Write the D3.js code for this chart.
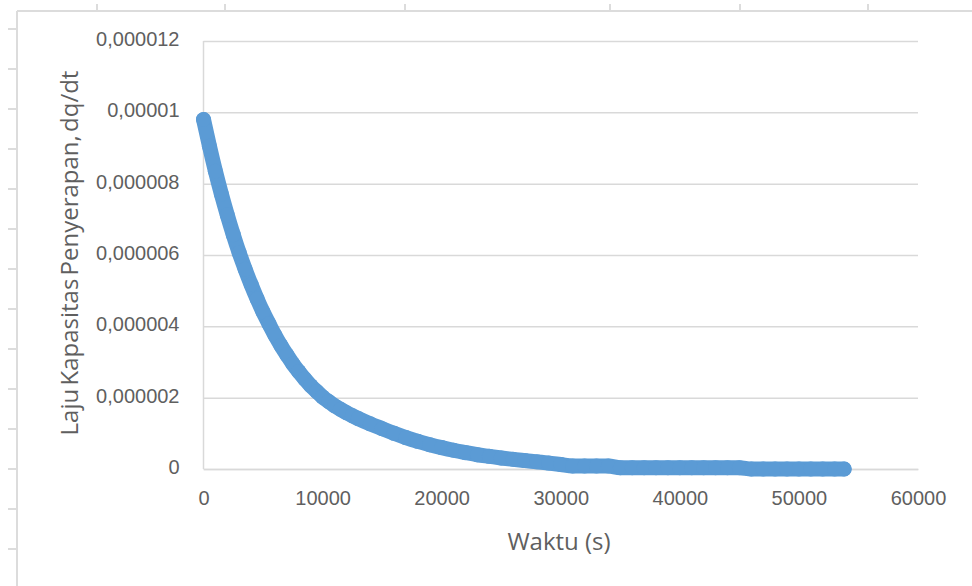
<!DOCTYPE html>
<html>
<head>
<meta charset="utf-8">
<script src="https://cdn.jsdelivr.net/npm/d3@7"></script>
<style>
  html, body { margin: 0; padding: 0; background: #fff; }
  svg { display: block; font-family: "Open Sans", "Noto Sans", sans-serif; }
  .tick text { fill: #5f5f5f; }
</style>
</head>
<body>
<svg id="chart" width="972" height="586"></svg>
<script>
// time (s)
var timeS = [
    0, 500, 1000, 1500, 2000, 2500, 3000, 3500, 4000, 4500,
    5000, 5500, 6000, 6500, 7000, 7500, 8000, 8500, 9000, 9500,
    10000, 10500, 11000, 11500, 12000, 12500, 13000, 14000, 15000, 16000,
    17000, 18000, 19000, 20000, 21000, 22000, 23000, 24000, 25000, 26000,
    27000, 28000, 29000, 30000, 31000, 32000, 33000, 34000, 35000, 36000,
    37000, 38000, 39000, 40000, 41000, 42000, 43000, 44000, 45000, 46000,
    47000, 48000, 49000, 50000, 51000, 52000, 53000, 53800
];

// dq/dt
var rate = [
    9.80e-6, 9.05e-6, 8.35e-6, 7.71e-6, 7.12e-6, 6.57e-6, 6.06e-6, 5.60e-6, 5.17e-6, 4.77e-6,
    4.40e-6, 4.07e-6, 3.75e-6, 3.46e-6, 3.20e-6, 2.95e-6, 2.73e-6, 2.525e-6, 2.337e-6, 2.175e-6,
    2.022e-6, 1.895e-6, 1.775e-6, 1.674e-6, 1.578e-6, 1.493e-6, 1.413e-6, 1.266e-6, 1.132e-6, 1.00e-6,
    0.88e-6, 0.775e-6, 0.683e-6, 0.60e-6, 0.525e-6, 0.46e-6, 0.40e-6, 0.355e-6, 0.31e-6, 0.27e-6,
    0.235e-6, 0.20e-6, 0.165e-6, 0.125e-6, 0.085e-6, 0.085e-6, 0.085e-6, 0.085e-6, 0.035e-6, 0.035e-6,
    0.035e-6, 0.035e-6, 0.035e-6, 0.035e-6, 0.035e-6, 0.035e-6, 0.035e-6, 0.035e-6, 0.035e-6, 0,
    0, 0, 0, 0, 0, 0, 0, 0
];

var xTicks = [0, 10000, 20000, 30000, 40000, 50000, 60000];
var yTicks = [0, 0.000002, 0.000004, 0.000006, 0.000008, 0.00001, 0.000012];
var yTickLabels = ["0", "0,000002", "0,000004", "0,000006", "0,000008", "0,00001", "0,000012"];

var xTitle = "Waktu (s)";
var yTitle = "Laju Kapasitas Penyerapan, dq/dt";

make_scatter(timeS.map(function (t, i) { return { t: t, v: rate[i] }; }));

function make_scatter(data) {

    var svg = d3.select("#chart"),
        margin = { top: 41, right: 54, bottom: 117, left: 203.5 },
        width = +svg.attr("width") - margin.left - margin.right,
        height = +svg.attr("height") - margin.top - margin.bottom,
        grey = "#d9d9d9",
        textGrey = "#5f5f5f";

    svg.append("rect").attr("width", 972).attr("height", 586).attr("fill", "#fff");

    // the light frame round the chart, with its little marks
    var frame = svg.append("g").attr("stroke", "#dcdcdc").attr("stroke-width", 2);
    frame.append("line").attr("x1", 17).attr("x2", 972).attr("y1", 11).attr("y2", 11);
    frame.append("line").attr("x1", 17).attr("x2", 17).attr("y1", 11).attr("y2", 586);
    frame.selectAll(".mx").data([97, 225, 405, 610, 740, 868]).enter().append("line")
        .attr("x1", function (d) { return d; }).attr("x2", function (d) { return d; })
        .attr("y1", 4).attr("y2", 11);
    frame.selectAll(".my").data(d3.range(29, 586, 40)).enter().append("line")
        .attr("y1", function (d) { return d; }).attr("y2", function (d) { return d; })
        .attr("x1", 8).attr("x2", 17);

    var g = svg.append("g").attr("transform", "translate(" + margin.left + "," + margin.top + ")");

    var x = d3.scaleLinear().domain([0, 60000]).range([0, width]);
    var y = d3.scaleLinear().domain([0, 0.000012]).range([height, 0]);

    // y axis + gridlines
    var yAxis = g.append("g")
        .call(d3.axisLeft(y).tickValues(yTicks).tickSize(-width).tickPadding(24)
            .tickFormat(function (d, i) { return yTickLabels[i]; }));
    yAxis.select(".domain").remove();
    yAxis.selectAll(".tick line").attr("stroke", grey).attr("stroke-width", 1.5);
    yAxis.selectAll(".tick text").attr("font-size", 20).attr("dy", "0.22em");

    // x axis
    var xAxis = g.append("g")
        .attr("transform", "translate(0," + height + ")")
        .call(d3.axisBottom(x).tickValues(xTicks).tickSize(0).tickPadding(22)
            .tickFormat(d3.format("d")));
    xAxis.select(".domain").attr("stroke", grey).attr("stroke-width", 1.5);
    xAxis.selectAll(".tick text").attr("font-size", 20);

    // vertical axis line
    g.append("line")
        .attr("x1", 0).attr("x2", 0).attr("y1", 0).attr("y2", height)
        .attr("stroke", grey).attr("stroke-width", 1.5);

    // series: dense round markers
    var blue = "#5b9bd5";
    g.append("path")
        .datum(data)
        .attr("fill", "none")
        .attr("stroke", blue)
        .attr("stroke-width", 15)
        .attr("stroke-linecap", "round")
        .attr("stroke-linejoin", "round")
        .attr("d", d3.line()
            .x(function (d) { return x(d.t); })
            .y(function (d) { return y(d.v); })
            .curve(d3.curveMonotoneX));

    g.selectAll(".dot").data(data).enter().append("circle")
        .attr("cx", function (d) { return x(d.t); })
        .attr("cy", function (d) { return y(d.v); })
        .attr("r", 7.5)
        .attr("fill", blue);

    // titles
    svg.append("text")
        .attr("x", 559)
        .attr("y", 550)
        .attr("text-anchor", "middle")
        .attr("font-size", 24)
        .attr("fill", textGrey)
        .text(xTitle);

    svg.append("text")
        .attr("transform", "translate(78,253) rotate(-90)")
        .attr("text-anchor", "middle")
        .attr("font-size", 24)
        .attr("word-spacing", -3)
        .attr("fill", textGrey)
        .text(yTitle);
}
</script>
</body>
</html>
